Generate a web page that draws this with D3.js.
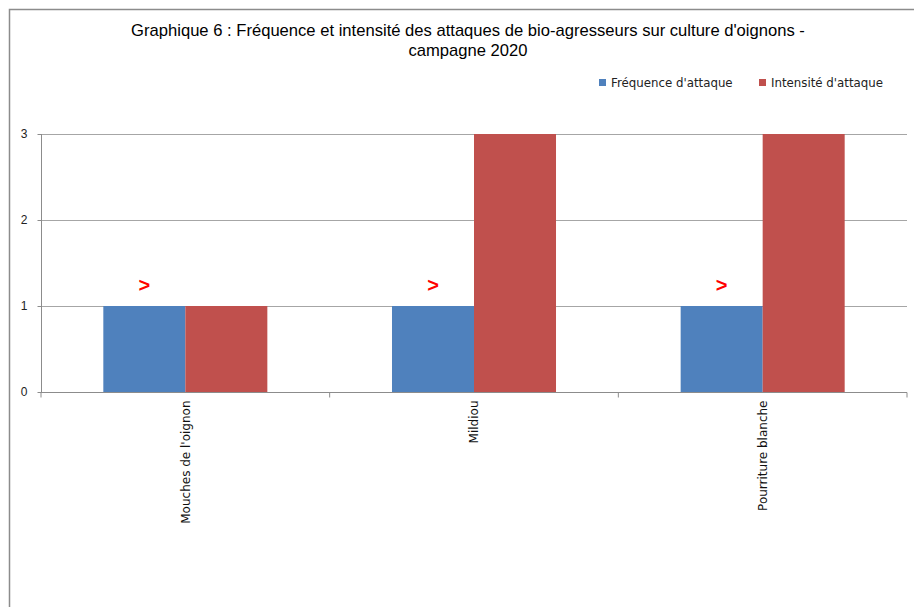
<!DOCTYPE html>
<html>
<head>
<meta charset="utf-8">
<script src="https://cdn.jsdelivr.net/npm/d3@7"></script>
<style>
  body { margin: 0; background: #fff; }
  text { font-family: "Liberation Sans Narrow", "Liberation Sans", sans-serif; }
</style>
</head>
<body>
<svg id="main"></svg>
<script>
const width = 914;
const height = 607;

const categories = ['Mouches de l\'oignon', 'Mildiou', 'Pourriture blanche']
const series = ['Fréquence d\'attaque', 'Intensité d\'attaque']
const frequence = [1, 1, 1]
const intensite = [1, 3, 3]
const yTicks = [0, 1, 2, 3]
const colors = ['#4f81bd', '#c0504d']

const svg = d3.select('#main').attr('width', width).attr('height', height)

// chart frame (only top and left edges visible)
svg.append('path')
  .attr('d', `M 9.5 ${height} V 9.5 H ${width}`)
  .attr('fill', 'none')
  .attr('stroke', '#8c8c8c')
  .attr('stroke-width', 1.5)

const margin = {left: 41, right: 907, top: 134, bottom: 392}

const x = d3.scaleBand().domain(categories).range([margin.left, margin.right]).paddingInner(0).paddingOuter(0)
const xs = d3.scaleBand().domain(series).range([0, x.bandwidth()]).paddingInner(0).paddingOuter(0.76)
const y = d3.scaleLinear().domain([0, 3]).range([margin.bottom, margin.top])

// gridlines
svg.append('g')
  .selectAll('line')
  .data(yTicks.slice(1))
  .join('line')
  .attr('x1', margin.left).attr('x2', margin.right)
  .attr('y1', d => y(d) + 0.5).attr('y2', d => y(d) + 0.5)
  .attr('stroke', '#a6a6a6')
  .attr('stroke-width', 1)

// bars
const rows = categories.map((c, i) => ({cat: c, values: [frequence[i], intensite[i]]}))
const groups = svg.append('g').selectAll('g')
  .data(rows)
  .join('g')
  .attr('transform', d => `translate(${x(d.cat)},0)`)

groups.selectAll('rect')
  .data(d => d.values.map((v, j) => ({key: series[j], value: v, idx: j})))
  .join('rect')
  .attr('x', d => xs(d.key))
  .attr('width', xs.bandwidth())
  .attr('y', d => y(d.value))
  .attr('height', d => y(0) - y(d.value))
  .attr('fill', d => colors[d.idx])

// red markers above the frequency bars
groups.append('text')
  .attr('x', xs(series[0]) + xs.bandwidth() / 2)
  .attr('y', d => y(d.values[0]) - 14)
  .attr('text-anchor', 'middle')
  .attr('fill', '#ff0000')
  .attr('font-weight', 'bold')
  .attr('font-size', 20)
  .text('>')

// y axis
const yAxis = svg.append('g')
  .attr('transform', `translate(${margin.left + 0.5},0)`)
  .call(d3.axisLeft(y).tickValues(yTicks).tickSize(4).tickPadding(10).tickFormat(d3.format('d')))
yAxis.select('.domain').attr('stroke', '#8c8c8c').attr('d', `M0,${margin.top} V${margin.bottom}`)
yAxis.selectAll('.tick line').attr('stroke', '#8c8c8c')
yAxis.selectAll('.tick text').attr('font-size', 12).attr('fill', '#222')
  .style('font-family', '"Liberation Sans", sans-serif')

// x axis
const xAxis = svg.append('g')
  .attr('transform', `translate(0,${margin.bottom + 0.5})`)
  .call(d3.axisBottom(x).tickSize(0).tickPadding(0))
xAxis.select('.domain').attr('stroke', '#8c8c8c').attr('d', `M${margin.left},0 H${margin.right}`)
xAxis.selectAll('.tick text')
  .attr('transform', 'rotate(-90)')
  .attr('x', -8).attr('y', 0).attr('dy', '0.35em')
  .attr('text-anchor', 'end')
  .attr('fill', '#111')
  .style('font-family', '"DejaVu Sans", sans-serif')
  .style('font-size', '12px')
xAxis.append('g').selectAll('line')
  .data(d3.range(categories.length + 1))
  .join('line')
  .attr('x1', i => margin.left + i * x.step()).attr('x2', i => margin.left + i * x.step())
  .attr('y1', 0).attr('y2', 5)
  .attr('stroke', '#8c8c8c')

// title
const title = svg.append('text')
  .attr('x', 468)
  .attr('text-anchor', 'middle')
  .attr('font-size', 16.6)
  .attr('fill', '#000')
title.append('tspan').attr('x', 468).attr('y', 36).text('Graphique 6 : Fréquence et intensité des attaques de bio-agresseurs sur culture d\'oignons -')
title.append('tspan').attr('x', 468).attr('y', 56).text('campagne 2020')

// legend
const legendX = [599, 759]
const legend = svg.append('g').selectAll('g')
  .data(series)
  .join('g')
  .attr('transform', (d, i) => `translate(${legendX[i]},79)`)
legend.append('rect').attr('width', 7).attr('height', 7).attr('fill', (d, i) => colors[i])
legend.append('text')
  .attr('x', 12).attr('y', 4).attr('dy', '0.35em')
  .style('font-family', '"DejaVu Sans", sans-serif')
  .style('font-size', '11.8px')
  .attr('fill', '#222')
  .text(d => d)
</script>
</body>
</html>
